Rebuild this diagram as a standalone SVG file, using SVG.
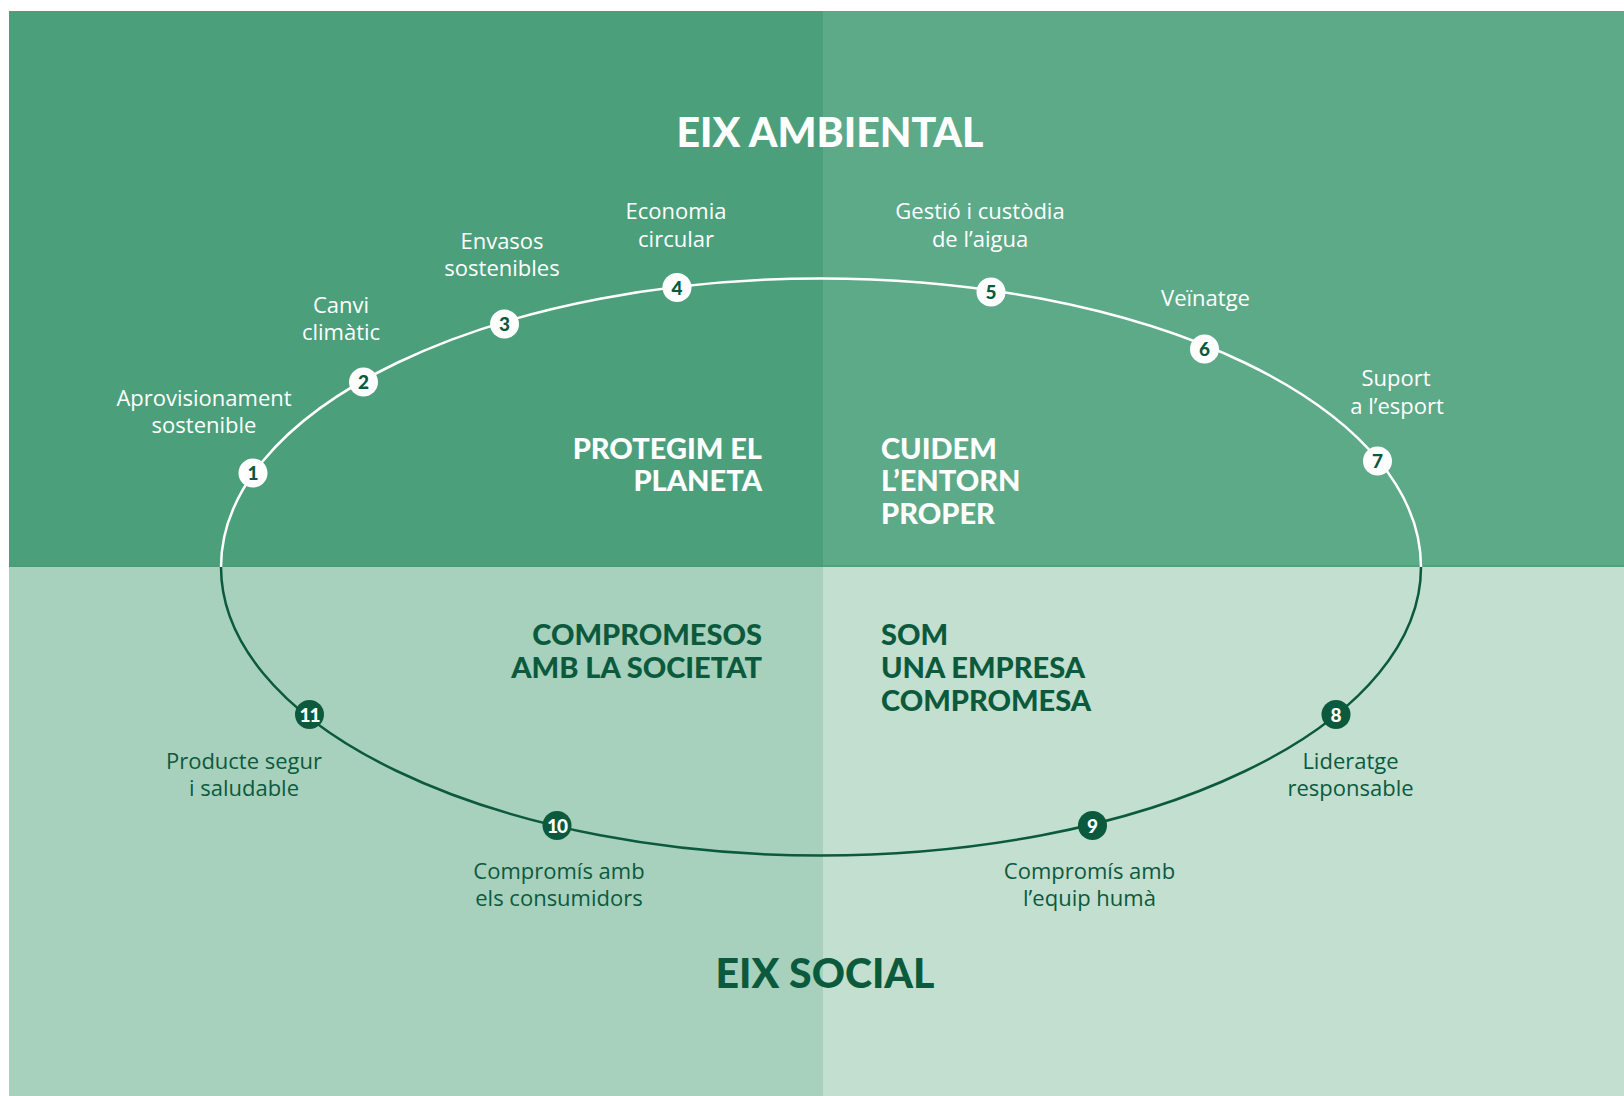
<svg xmlns="http://www.w3.org/2000/svg" width="1624" height="1096" viewBox="0 0 1624 1096">
<style>
.lbl{font-family:"Open Sans","Liberation Sans",sans-serif;font-size:22px;text-anchor:middle}
.lw{fill:#ffffff}
.ld{fill:#0c5a3d}
.ttl{font-family:"Lato","Liberation Sans",sans-serif;font-weight:900;font-size:29px}
.big{font-family:"Lato","Liberation Sans",sans-serif;font-weight:900;font-size:41px;text-anchor:middle}
.num{font-family:"Lato","Liberation Sans",sans-serif;font-weight:900;font-size:19px;text-anchor:middle}
.cw{fill:#ffffff}
.cd{fill:#0c5a3d}
</style>
<rect x="0" y="0" width="1624" height="1096" fill="#ffffff"/>
<g id="background">
<rect x="9" y="11" width="814" height="556" fill="#4b9f7b"/>
<rect x="823" y="11" width="801" height="556" fill="#5daa89"/>
<rect x="9" y="567" width="814" height="529" fill="#a7d1bd"/>
<rect x="823" y="567" width="801" height="529" fill="#c2dfd0"/>
<rect x="9" y="565" width="1615" height="2" fill="#4a9a78" opacity="0.6"/>
</g>
<g id="axis-titles">
<text class="big lw" x="830" y="147">EIX AMBIENTAL</text>
<text class="big ld" x="825" y="988">EIX SOCIAL</text>
</g>
<g id="connectors" fill="none" stroke-width="2.5">
<path d="M 221 567 A 600 288.5 0 0 1 1421 567" stroke="#ffffff"/>
<path d="M 221 567 A 600 288.5 0 0 0 1421 567" stroke="#0c5a3d"/>
</g>
<g id="quadrant-titles">
<text class="ttl lw" text-anchor="end" x="762" y="459">PROTEGIM EL<tspan x="762" y="491">PLANETA</tspan></text>
<text class="ttl lw" x="881" y="459">CUIDEM<tspan x="881" y="491">L’ENTORN</tspan><tspan x="881" y="524">PROPER</tspan></text>
<text class="ttl ld" text-anchor="end" x="762" y="645">COMPROMESOS<tspan x="762" y="678">AMB LA SOCIETAT</tspan></text>
<text class="ttl ld" x="881" y="645">SOM<tspan x="881" y="678">UNA EMPRESA</tspan><tspan x="881" y="711">COMPROMESA</tspan></text>
</g>
<g id="node-1">
<circle cx="253" cy="473" r="14.5" class="cw"/>
<text class="num cd" x="253" y="480">1</text>
<text class="lbl lw" x="204" y="406">Aprovisionament<tspan x="204" y="433">sostenible</tspan></text>
</g>
<g id="node-2">
<circle cx="363.5" cy="382" r="14.5" class="cw"/>
<text class="num cd" x="363.5" y="389">2</text>
<text class="lbl lw" x="341" y="313">Canvi<tspan x="341" y="340">climàtic</tspan></text>
</g>
<g id="node-3">
<circle cx="504.5" cy="324" r="14.5" class="cw"/>
<text class="num cd" x="504.5" y="331">3</text>
<text class="lbl lw" x="502" y="248.5">Envasos<tspan x="502" y="275.5">sostenibles</tspan></text>
</g>
<g id="node-4">
<circle cx="677" cy="287.5" r="14.5" class="cw"/>
<text class="num cd" x="677" y="294.5">4</text>
<text class="lbl lw" x="676" y="218.5">Economia<tspan x="676" y="246.5">circular</tspan></text>
</g>
<g id="node-5">
<circle cx="991" cy="292" r="14.5" class="cw"/>
<text class="num cd" x="991" y="299">5</text>
<text class="lbl lw" x="980" y="218.5">Gestió i custòdia<tspan x="980" y="246.5">de l’aigua</tspan></text>
</g>
<g id="node-6">
<circle cx="1204.5" cy="349" r="14.5" class="cw"/>
<text class="num cd" x="1204.5" y="356">6</text>
<text class="lbl lw" x="1205.5" y="305.5">Veïnatge</text>
</g>
<g id="node-7">
<circle cx="1377.5" cy="461" r="14.5" class="cw"/>
<text class="num cd" x="1377.5" y="468">7</text>
<text class="lbl lw" x="1396" y="386">Suport<tspan x="1397" y="414">a l’esport</tspan></text>
</g>
<g id="node-8">
<circle cx="1336" cy="714.5" r="14.5" class="cd"/>
<text class="num cw" x="1336" y="721.5">8</text>
<text class="lbl ld" x="1350.5" y="768.5">Lideratge<tspan x="1350.5" y="795.5">responsable</tspan></text>
</g>
<g id="node-9">
<circle cx="1092.5" cy="825.5" r="14.5" class="cd"/>
<text class="num cw" x="1092.5" y="832.5">9</text>
<text class="lbl ld" x="1089.5" y="879">Compromís amb<tspan x="1089.5" y="906">l’equip humà</tspan></text>
</g>
<g id="node-10">
<circle cx="557" cy="825.5" r="14.5" class="cd"/>
<text class="num cw" x="557" y="832.5" letter-spacing="-1">10</text>
<text class="lbl ld" x="559" y="879">Compromís amb<tspan x="559" y="906">els consumidors</tspan></text>
</g>
<g id="node-11">
<circle cx="309.5" cy="714.5" r="14.5" class="cd"/>
<text class="num cw" x="309.5" y="721.5" letter-spacing="-1">11</text>
<text class="lbl ld" x="244" y="768.5">Producte segur<tspan x="244" y="795.5">i saludable</tspan></text>
</g>
</svg>
